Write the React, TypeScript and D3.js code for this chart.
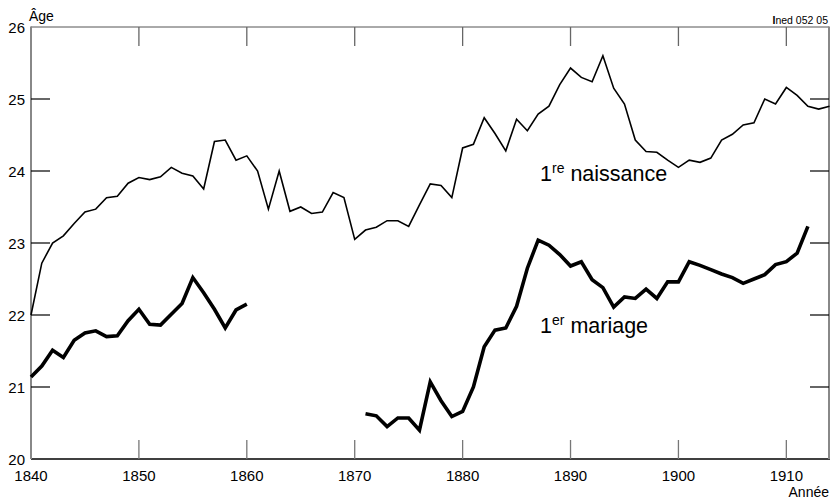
import React from "react";
import * as d3 from "d3";

const naissanceYears: number[] = d3.range(1840, 1915);
const naissance: number[] = [
  22.0, 22.72, 23.0, 23.1, 23.27, 23.43, 23.47, 23.63, 23.65, 23.83,
  23.91, 23.88, 23.92, 24.05, 23.97, 23.93, 23.75, 24.41, 24.43, 24.15,
  24.21, 24.0, 23.47, 24.0, 23.44, 23.5, 23.41, 23.43, 23.7, 23.63,
  23.05, 23.18, 23.22, 23.31, 23.31, 23.23, 23.53, 23.82, 23.8, 23.63,
  24.32, 24.37, 24.74, 24.52, 24.28, 24.72, 24.56, 24.79, 24.9, 25.2,
  25.43, 25.3, 25.24, 25.6, 25.15, 24.93, 24.43, 24.27, 24.26, 24.15,
  24.05, 24.15, 24.12, 24.18, 24.43, 24.51, 24.64, 24.67, 25.0, 24.93,
  25.16, 25.05, 24.9, 24.86, 24.9,
];

const mariageYears: number[] = d3.range(1840, 1913);
const mariage: (number | null)[] = [
  21.14, 21.29, 21.51, 21.41, 21.65, 21.75, 21.78, 21.7, 21.71, 21.92,
  22.08, 21.87, 21.86, 22.01, 22.16, 22.52, 22.31, 22.08, 21.82, 22.07,
  22.15,
  null, null, null, null, null, null, null, null, null, null,
  20.63, 20.6, 20.45, 20.57, 20.57, 20.4, 21.07, 20.81, 20.59,
  20.66, 21.0, 21.56, 21.79, 21.82, 22.12, 22.65, 23.04, 22.97, 22.84,
  22.68, 22.74, 22.49, 22.38, 22.11, 22.25, 22.23, 22.36, 22.23, 22.46,
  22.46, 22.74, 22.69, 22.63, 22.57, 22.52, 22.44, 22.5, 22.56, 22.7,
  22.74, 22.86, 23.23,
];

const xTicks: number[] = [1840, 1850, 1860, 1870, 1880, 1890, 1900, 1910];
const yTicks: number[] = [20, 21, 22, 23, 24, 25, 26];

const W = 834;
const H = 504;
const FONT = "'Liberation Sans', Arial, Helvetica, sans-serif";

export default function App() {
  const x = d3.scaleLinear().domain([1840, 1914]).range([31, 829.5]);
  const y = d3.scaleLinear().domain([20, 26]).range([459, 27]);

  const nData = naissanceYears.map((yr, i) => ({ yr, v: naissance[i] as number | null }));
  const mData = mariageYears.map((yr, i) => ({ yr, v: mariage[i] }));

  const line = d3
    .line<{ yr: number; v: number | null }>()
    .defined((d) => d.v !== null)
    .x((d) => x(d.yr))
    .y((d) => y(d.v as number));

  const left = x(1840);
  const right = 829;
  const top = y(26);
  const bottom = y(20);

  return (
    <svg
      width={W}
      height={H}
      style={{ position: "absolute", left: 0, top: 0, background: "#fff" }}
      fontFamily={FONT}
    >
      <rect x={0} y={0} width={W} height={H} fill="#fff" />
      {/* frame */}
      <line x1={left} x2={right} y1={top} y2={top} stroke="#555" strokeWidth={1} />
      <line x1={left} x2={right + 1} y1={bottom} y2={bottom} stroke="#000" strokeWidth={1.3} />
      <line x1={left} x2={left} y1={top - 0.5} y2={bottom} stroke="#888" strokeWidth={2} />
      <line x1={right} x2={right} y1={top - 0.5} y2={bottom} stroke="#888" strokeWidth={2} />

      {/* x ticks */}
      {xTicks.map((t) => (
        <g key={"x" + t}>
          {t !== 1840 && (
            <>
              <line x1={x(t)} x2={x(t)} y1={bottom} y2={bottom - 19} stroke="#777" strokeWidth={1.3} />
              <line x1={x(t)} x2={x(t)} y1={top} y2={top + 19} stroke="#666" strokeWidth={1.3} />
            </>
          )}
          <text x={x(t)} y={481} fontSize={15} textAnchor="middle" fill="#000">
            {t}
          </text>
        </g>
      ))}

      {/* y ticks */}
      {yTicks.map((t) => (
        <g key={"y" + t}>
          {t !== 20 && t !== 26 && (
            <>
              <line x1={left} x2={left + 19} y1={y(t)} y2={y(t)} stroke="#000" strokeWidth={1.2} />
              <line x1={right} x2={right - 19} y1={y(t)} y2={y(t)} stroke="#000" strokeWidth={1.2} />
            </>
          )}
          <text x={25} y={y(t) + 5.5} fontSize={15} textAnchor="end" fill="#000">
            {t}
          </text>
        </g>
      ))}

      {/* lines */}
      <path d={line(nData) || ""} fill="none" stroke="#000" strokeWidth={1.6} strokeLinejoin="miter" />
      <path d={line(mData) || ""} fill="none" stroke="#000" strokeWidth={3.6} strokeLinejoin="miter" />

      {/* labels */}
      <text x={29} y={21} fontSize={14} fill="#000">
        Âge
      </text>
      <text x={829} y={497} fontSize={14} textAnchor="end" fill="#000">
        Année
      </text>
      <text x={828} y={24} fontSize={10.5} textAnchor="end" fill="#000">
        <tspan fontWeight="bold">I</tspan>ned 052 05
      </text>

      <text x={540} y={181} fontSize={21.5} fill="#000">
        1<tspan fontSize={14} dy={-8}>re</tspan>
        <tspan dy={8}> naissance</tspan>
      </text>
      <text x={540} y={333} fontSize={21.5} fill="#000">
        1<tspan fontSize={14} dy={-8}>er</tspan>
        <tspan dy={8}> mariage</tspan>
      </text>
    </svg>
  );
}
